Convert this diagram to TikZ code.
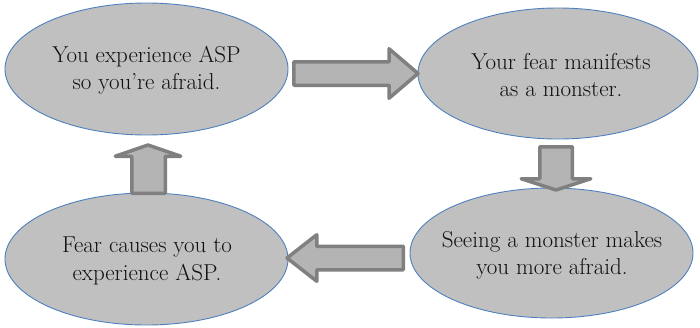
\documentclass[tikz,border=0pt]{standalone}
\usetikzlibrary{shapes.geometric}
\definecolor{ellfill}{HTML}{C0C0C0}
\definecolor{ellline}{HTML}{4F81BD}
\definecolor{arrfill}{HTML}{B4B4B4}
\definecolor{arrline}{HTML}{808080}
\definecolor{txt}{HTML}{101010}
\tikzset{
  bubble/.style={ellipse, draw=ellline, fill=ellfill, line width=0.9pt, inner sep=0pt},
  label text/.style={text=txt, align=center, inner sep=0pt, font=\fontsize{23}{27}\selectfont},
  blockarrow/.style={draw=arrline, fill=arrfill, line width=3.5pt, line join=round}
}
\begin{document}
\begin{tikzpicture}[x=1pt,y=-1pt]
\useasboundingbox (0,0) rectangle (700,327);
% ellipses
\node[bubble, minimum width=283pt, minimum height=132pt] (tl) at (146.5,69) {};
\node[bubble, minimum width=280pt, minimum height=131pt] (tr) at (558,73.5) {};
\node[bubble, minimum width=283pt, minimum height=132pt] (bl) at (146.5,259) {};
\node[bubble, minimum width=283pt, minimum height=130pt] (br) at (551.5,253) {};
% texts
\node[label text] (ttl) at (146.5,70) {You experience ASP\\so you’re afraid.};
\node[label text] (ttr) at (561,75) {Your fear manifests\\as a monster.};
\node[label text, font=\fontsize{23}{28}\selectfont] (tbl) at (147,261) {Fear causes you to\\experience ASP.};
\node[label text] (tbr) at (552,255) {Seeing a monster makes\\you more afraid.};
% block arrows
\draw[blockarrow] (293.75,61.75) -- (389,61.75) -- (389,48.75) -- (418,73.5) -- (389,98.25) -- (389,85.25) -- (293.75,85.25) -- cycle;
\draw[blockarrow] (539.75,146.75) -- (572.25,146.75) -- (572.25,178.75) -- (590.75,178.75) -- (556,190) -- (521.25,178.75) -- (539.75,178.75) -- cycle;
\draw[blockarrow] (403.25,246.25) -- (316.75,246.25) -- (316.75,234.75) -- (287,258) -- (316.75,281.25) -- (316.75,269.75) -- (403.25,269.75) -- cycle;
\draw[blockarrow] (131.75,193.25) -- (131.75,156.25) -- (115.25,156.25) -- (148,145) -- (180.75,156.25) -- (165.25,156.25) -- (165.25,193.25) -- cycle;
\end{tikzpicture}
\end{document}
